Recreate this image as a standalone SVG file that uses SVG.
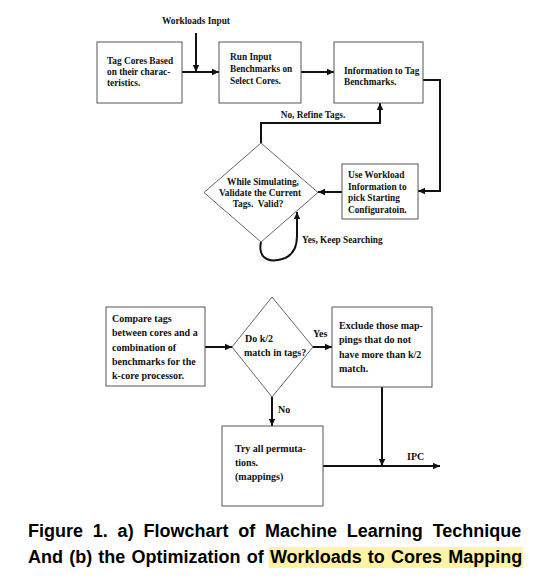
<svg xmlns="http://www.w3.org/2000/svg" width="544" height="579" viewBox="0 0 544 579">
<defs>
<style>
.box{fill:#fff;stroke:#555;stroke-width:1}
.dia{fill:#fff;stroke:#666;stroke-width:1}
.t{font-family:"Liberation Serif","Times New Roman",serif;font-weight:bold;font-size:9.3px;fill:#111}
.tb{font-family:"Liberation Serif","Times New Roman",serif;font-weight:bold;font-size:10px;fill:#111}
.c{fill:none;stroke:#111;stroke-width:2}
.cap{font-family:"Liberation Sans",Arial,sans-serif;font-weight:bold;font-size:18px;fill:#000}
</style>
<marker id="ah" markerWidth="8" markerHeight="8" refX="7" refY="4" orient="auto" markerUnits="userSpaceOnUse">
<path d="M0,0.8 L7,4 L0,7.2 Z" fill="#111"/>
</marker>
</defs>
<rect width="544" height="579" fill="#fff"/>

<g id="connectors">
<line class="c" x1="196" y1="33" x2="196" y2="72" marker-end="url(#ah)"/>
<line class="c" x1="182" y1="72" x2="219" y2="72" marker-end="url(#ah)"/>
<line class="c" x1="301" y1="72" x2="334" y2="72" marker-end="url(#ah)"/>
<polyline class="c" points="423,80 440,80 440,191 418,191" marker-end="url(#ah)"/>
<line class="c" x1="342" y1="192" x2="318" y2="192" marker-end="url(#ah)"/>
<polyline class="c" points="261,143 261,123 380,123 380,103" marker-end="url(#ah)"/>
<path class="c" d="M261,242 C258,256 266,262 278,260 C291,258 297,249 297,236 L297,212" marker-end="url(#ah)"/>
<line class="c" x1="205" y1="347" x2="232" y2="347" marker-end="url(#ah)"/>
<line class="c" x1="313" y1="347" x2="332" y2="347" marker-end="url(#ah)"/>
<line class="c" x1="272" y1="397" x2="272" y2="426" marker-end="url(#ah)"/>
<line class="c" x1="382" y1="387" x2="382" y2="466" marker-end="url(#ah)"/>
<line class="c" x1="323" y1="466" x2="440" y2="466" marker-end="url(#ah)"/>
<text class="t" x="196" y="24" text-anchor="middle">Workloads Input</text>
<text class="t" x="313" y="118" text-anchor="middle">No, Refine Tags.</text>
<text class="t" x="302" y="243">Yes, Keep Searching</text>
<text class="tb" x="313" y="337">Yes</text>
<text class="tb" x="278" y="413">No</text>
<text class="tb" x="407" y="460">IPC</text>
</g>

<g id="tag-cores">
<rect class="box" x="97" y="42" width="85" height="61"/>
<text class="t" x="107" y="63.5">Tag Cores Based</text>
<text class="t" x="107" y="75">on their charac-</text>
<text class="t" x="107" y="86">teristics.</text>
</g>

<g id="run-input">
<rect class="box" x="219" y="42" width="82" height="61"/>
<text class="t" x="230" y="60">Run Input</text>
<text class="t" x="230" y="72">Benchmarks on</text>
<text class="t" x="230" y="84">Select Cores.</text>
</g>

<g id="info-tag">
<rect class="box" x="334" y="42" width="89" height="61"/>
<text class="t" x="344" y="74">Information to Tag</text>
<text class="t" x="344" y="85">Benchmarks.</text>
</g>

<g id="use-workload">
<rect class="box" x="342" y="164" width="76" height="55"/>
<text class="t" x="348" y="178">Use Workload</text>
<text class="t" x="348" y="189.5">Information to</text>
<text class="t" x="348" y="201">pick Starting</text>
<text class="t" x="348" y="212.5">Configuratoin.</text>
</g>

<g id="validate">
<polygon class="dia" points="261,143 318,192.5 261,242 204,192.5"/>
<text class="t" x="263" y="185" text-anchor="middle">While Simulating,</text>
<text class="t" x="260" y="196" text-anchor="middle">Validate the Current</text>
<text class="t" x="258" y="207" text-anchor="middle" xml:space="preserve">Tags.  Valid?</text>
</g>

<g id="compare">
<rect class="box" x="106" y="307" width="99" height="79"/>
<text class="tb" x="112" y="321.5">Compare tags</text>
<text class="tb" x="112" y="336">between cores and a</text>
<text class="tb" x="112" y="350.5">combination of</text>
<text class="tb" x="112" y="365">benchmarks for the</text>
<text class="tb" x="112" y="379">k-core processor.</text>
</g>

<g id="match">
<polygon class="dia" points="272,297 313,347 272,397 232,347"/>
<text class="tb" x="245" y="341.5">Do k/2</text>
<text class="tb" x="244" y="355.5">match in tags?</text>
</g>

<g id="exclude">
<rect class="box" x="332" y="307" width="100" height="80"/>
<text class="tb" x="339" y="328.5">Exclude those map-</text>
<text class="tb" x="339" y="343">pings that do not</text>
<text class="tb" x="339" y="357.5">have more than k/2</text>
<text class="tb" x="339" y="372">match.</text>
</g>

<g id="permutations">
<rect class="box" x="222" y="426" width="101" height="80"/>
<text class="tb" x="235" y="451.5">Try all permuta-</text>
<text class="tb" x="235" y="465.5">tions.</text>
<text class="tb" x="235" y="480">(mappings)</text>
</g>

<g id="caption">
<rect x="268.5" y="547" width="254.5" height="21" fill="#fff4a3"/>
<text class="cap" x="28" y="537" word-spacing="4.8">Figure 1. a) Flowchart of Machine Learning Technique</text>
<text class="cap" x="28" y="563" word-spacing="1.2">And (b) the Optimization of Workloads to Cores Mapping</text>
</g>
</svg>
